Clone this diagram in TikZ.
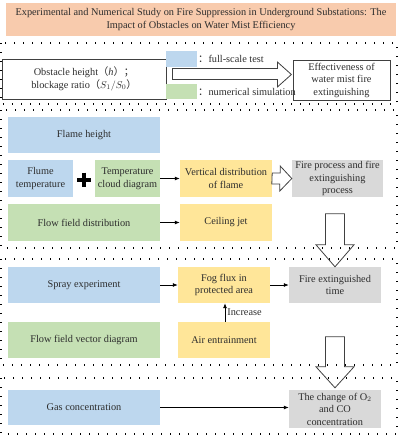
\documentclass[tikz,border=0pt]{standalone}
\usepackage{fontspec}
\setmainfont{Liberation Serif}
\newfontfamily\cjk{Noto Sans CJK SC}
\usepackage{tikz}
\usetikzlibrary{arrows.meta,positioning,calc}
\definecolor{boxblue}{RGB}{189,215,238}
\definecolor{boxgreen}{RGB}{197,224,180}
\definecolor{boxyellow}{RGB}{255,230,153}
\definecolor{boxgray}{RGB}{217,217,217}
\definecolor{titleorange}{RGB}{248,203,173}
\definecolor{txtgray}{RGB}{45,45,45}

\begin{document}
\begin{tikzpicture}[x=1pt,y=-1pt,
    every node/.style={font=\fontsize{10.3}{12.5}\selectfont, text=txtgray, align=center, inner sep=0pt},
    cell/.style={minimum width=#1, minimum height=36},
    blu/.style={cell=#1, fill=boxblue},
    grn/.style={cell=#1, fill=boxgreen},
    yel/.style={cell=#1, fill=boxyellow},
    gry/.style={cell=#1, fill=boxgray},
    frame/.style={line width=1.3pt, dash pattern=on 1.3pt off 7.7pt},
    hollow/.style={draw=black!75, line width=0.8pt},
    link/.style={-{Latex[length=5pt,width=4pt]}, line width=0.8pt}]
  \useasboundingbox (0,0) rectangle (403,437);

  % title
  \node[fill=titleorange, minimum width=390, minimum height=33] (title) at (201,19.5)
    {Experimental and Numerical Study on Fire Suppression in Underground Substations: The\\
     Impact of Obstacles on Water Mist Efficiency};

  % dotted frames
  \draw[frame] (1,43) rectangle (397,104);
  \draw[frame] (1,110) rectangle (397,248);
  \draw[frame] (1,259) rectangle (397,365);
  \draw[frame] (1,378) rectangle (397,434);

  % first frame
  \node[draw=black!75, line width=0.8pt, minimum width=164, minimum height=40] (obs) at (84,79)
    {Obstacle height{\cjk （}\textit{h}{\cjk ）；}\\
     blockage ratio{\cjk （}$S_1/S_0${\cjk ）}};
  \node[draw=black!75, line width=0.8pt, minimum width=97, minimum height=40] (eff) at (341.5,80)
    {Effectiveness of\\ water mist fire\\ extinguishing};
  \node[fill=boxblue, minimum width=31, minimum height=16] (legb) at (181,58.5) {};
  \node[fill=boxgreen, minimum width=31, minimum height=15] (legg) at (181,91.5) {};
  \node[anchor=west] (legbt) at (198,58.5) {{\cjk ：}full-scale test};
  \node[anchor=west] (leggt) at (198,92) {{\cjk ：}numerical simulation};
  \draw[hollow] (obs.east) ++(6,-10.5) -- ++(105,0) -- ++(0,-6.5) -- ++(14,12.5)
    -- ++(-14,12.5) -- ++(0,-7.5) -- ++(-105,0) -- cycle;

  % second frame
  \node[blu=152] (flame) at (84,135) {Flame height};
  \node[blu=65, minimum height=37] (flume) at (40.5,178.5) {Flume\\ temperature};
  \node[grn=65, minimum height=37] (tcloud) at (127.5,178.5) {Temperature\\ cloud diagram};
  \node[yel=92, minimum height=37] (vert) at (226,178.5) {Vertical distribution\\ of flame};
  \node[gry=91, minimum height=37] (fireproc) at (337.5,178.5) {Fire process and fire\\ extinguishing\\ process};
  \node[grn=152, minimum height=37] (flowdist) at (84,222.5) {Flow field distribution};
  \node[yel=92, minimum height=37] (ceiling) at (226,222.5) {Ceiling jet};
  \draw[line width=4pt] (77,179.5) -- (91,179.5) (84,172.5) -- (84,186.5);
  \draw[link] (tcloud) -- (vert);
  \draw[link] (flowdist) -- (ceiling);
  \draw[hollow] (vert.east) ++(0,-5.5) -- ++(8,0) -- ++(0,-7) -- (fireproc.west)
    -- ++(-12,12.5) -- ++(0,-7) -- ++(-8,0) -- cycle;

  % third frame
  \node[blu=152] (spray) at (84,285) {Spray experiment};
  \node[yel=92] (fog) at (224,285) {Fog flux in\\ protected area};
  \node[gry=92] (ext) at (335,285) {Fire extinguished\\ time};
  \node[grn=152] (vector) at (84,340) {Flow field vector diagram};
  \node[yel=92] (air) at (224,340) {Air entrainment};
  \draw[link] (spray) -- (fog);
  \draw[link] (fog) -- (ext);
  \draw[link] ([xshift=1pt]air.north) -- node[right=2pt] {Increase} ([xshift=1pt]fog.south);
  \draw[hollow] (ext.north) -- ++(-19,-22) -- ++(9.5,0) -- ++(0,-31) -- ++(19,0)
    -- ++(0,31) -- ++(9.5,0) -- cycle;

  % fourth frame
  \node[blu=152, minimum height=35] (gas) at (84,407.5) {Gas concentration};
  \node[gry=92, minimum height=38] (chg) at (335,409) {The change of O$_2$\\ and CO\\ concentration};
  \draw[link] (gas.east) -- (gas.east -| chg.west);
  \draw[hollow] ([yshift=2pt]chg.north) -- ++(-19,-21) -- ++(9.5,0) -- ++(0,-30) -- ++(19,0)
    -- ++(0,30) -- ++(9.5,0) -- cycle;
\end{tikzpicture}
\end{document}
